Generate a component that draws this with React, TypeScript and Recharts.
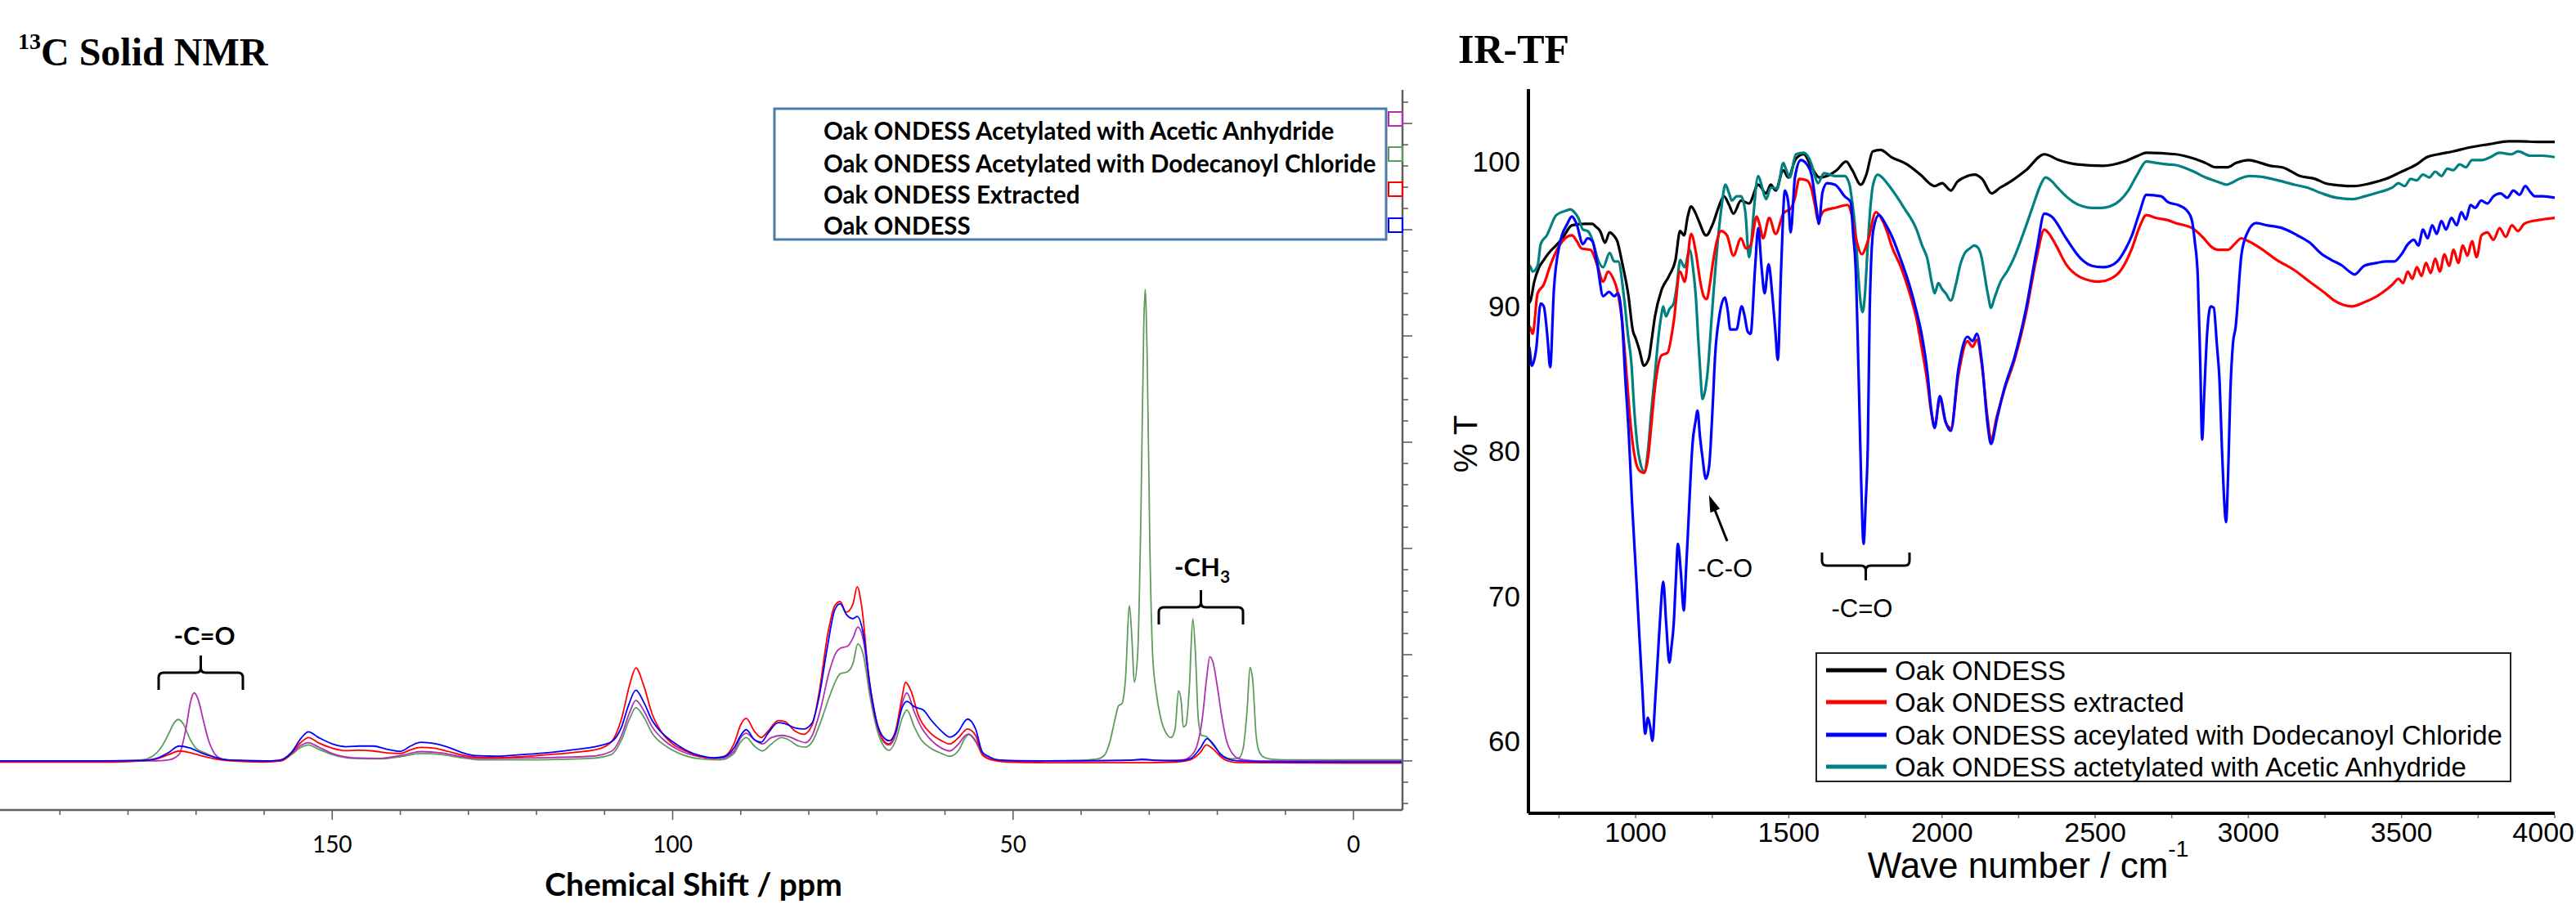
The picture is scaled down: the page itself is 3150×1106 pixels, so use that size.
import React from 'react';
import { LineChart, Line, XAxis, YAxis } from 'recharts';

type Pt = [number, number];

// ---------------- 13C solid NMR (ppm, intensity) ----------------
const nmrNames = [
  'Oak ONDESS Acetylated with Acetic Anhydride',
  'Oak ONDESS Acetylated with Dodecanoyl Chloride',
  'Oak ONDESS Extracted',
  'Oak ONDESS',
];
const nmrColors = ['#B030B0', '#5E9C5E', '#FF0000', '#0000FF'];

const nmrAcetic: Pt[] = [
  [199, 0], [182, 0], [176, 0], [174, 0.05], [172.5, 0.3], [171.5, 1.5], [170.8, 2.8], [170.3, 3.2], [169.7, 2.9],
  [169, 2.0], [168.2, 1.0], [167.3, 0.35], [166.3, 0.1], [165, 0.03], [160, 0], [157.5, 0.02], [156, 0.35],
  [154.5, 0.75], [153.5, 0.86], [152, 0.65], [150, 0.35], [147, 0.15], [143, 0.12], [140, 0.25], [137, 0.44],
  [134, 0.38], [131, 0.2], [128, 0.12], [120, 0.15], [112, 0.22], [109, 0.45], [107.5, 1.2], [106.3, 2.3],
  [105.4, 2.85], [104.3, 2.4], [103, 1.6], [101, 0.9], [99, 0.5], [96, 0.2], [93, 0.12], [91, 0.45], [90, 1.1],
  [89.2, 1.3], [88, 1.0], [86.8, 0.8], [85.5, 1.1], [84, 1.2], [83, 1.15], [81.5, 0.95], [80.5, 0.86], [79.5, 1.2],
  [78.3, 2.4], [77, 4.2], [76, 5.1], [75.4, 5.3], [74.3, 5.4], [73.5, 5.8], [72.8, 6.3], [72, 5.7], [71, 3.3],
  [70, 1.7], [69, 0.9], [68.2, 0.75], [67.2, 1.3], [66.3, 2.7], [65.6, 3.2], [64.5, 2.3], [63.5, 1.6], [62.1, 1.0],
  [60.5, 0.6], [59.3, 0.47], [58, 0.8], [57, 1.2], [56.5, 1.26], [55.5, 0.95], [54.5, 0.35], [53.2, 0.1],
  [51, 0.02], [45, 0], [35, 0.02], [31, 0.05], [28, 0.02], [25, 0.05], [24, 0.2], [23, 0.7], [22.2, 2.0],
  [21.6, 3.8], [21.1, 4.9], [20.6, 4.6], [20, 3.5], [19.3, 2.0], [18.6, 0.9], [17.8, 0.35], [17, 0.12], [16, 0.05],
  [14, 0], [0, 0], [-7.2, 0],
];

const nmrDodecanoyl: Pt[] = [
  [199, 0], [182, 0], [178, 0.05], [176.5, 0.2], [175, 0.7], [174, 1.3], [173.2, 1.8], [172.6, 1.95], [171.8, 1.7],
  [171, 1.1], [170, 0.6], [168.5, 0.35], [167, 0.15], [165, 0.03], [160, 0], [157.5, 0.02], [156, 0.3],
  [154.5, 0.65], [153.5, 0.75], [152, 0.55], [150, 0.3], [147, 0.12], [143, 0.1], [140, 0.2], [137, 0.35],
  [134, 0.3], [131, 0.15], [128, 0.05], [120, 0.05], [112, 0.12], [109, 0.3], [107.5, 1.0], [106.3, 2.0],
  [105.4, 2.5], [104.3, 2.1], [103, 1.3], [101, 0.7], [99, 0.35], [96, 0.1], [93, 0.05], [91, 0.35], [90, 0.9],
  [89.2, 1.1], [88, 0.7], [86.8, 0.47], [85.5, 0.8], [84, 1.1], [83, 1.0], [81.5, 0.7], [80.5, 0.65], [79.5, 0.9],
  [78.3, 1.8], [77, 3.0], [76, 3.8], [75.4, 4.1], [74.3, 4.2], [73.5, 4.6], [72.8, 5.5], [72, 5.0], [71, 3.0],
  [70, 1.5], [69, 0.7], [68.2, 0.5], [67.2, 1.0], [66.3, 2.0], [65.6, 2.4], [64.5, 1.6], [63.5, 1.0], [62.1, 0.6],
  [60.5, 0.35], [59.3, 0.22], [58, 0.5], [57, 1.1], [56.5, 1.24], [55.5, 0.9], [54.5, 0.3], [53.2, 0.08],
  [51, 0], [45, 0], [40, 0.03], [37.5, 0.1], [36.5, 0.3], [35.7, 1.0], [35, 2.0], [34.5, 2.6], [34, 2.7],
  [33.5, 3.8], [32.9, 7.3], [32.5, 5.5], [32.2, 3.7], [31.7, 5.0], [31.2, 12.0], [30.8, 20.5], [30.6, 22.2],
  [30.3, 19.0], [29.9, 10.0], [29.5, 5.0], [29, 3.3], [28.3, 2.0], [27.5, 1.3], [26.8, 1.1], [26.2, 1.5],
  [25.7, 3.3], [25.3, 2.8], [25.0, 1.6], [24.6, 1.7], [24.1, 3.5], [23.6, 6.7], [23.2, 5.0], [22.8, 2.0],
  [22.3, 1.2], [21.6, 1.15], [21, 0.9], [20, 0.5], [19, 0.2], [18, 0.1], [16.8, 0.15], [16.2, 0.6], [15.6, 2.5],
  [15.2, 4.4], [14.8, 3.8], [14.3, 1.2], [13.8, 0.4], [13, 0.15], [12, 0.08], [10, 0.05], [0, 0.05], [-7.2, 0.05],
];

const nmrExtracted: Pt[] = [
  [199, -0.05], [182, -0.05], [178, 0], [176, 0.08], [174, 0.3], [172.5, 0.47], [171, 0.4], [169, 0.22],
  [167, 0.08], [165, 0], [160, -0.05], [157.5, 0], [156, 0.35], [154.5, 0.9], [153.5, 1.1], [152, 0.85],
  [150, 0.6], [148, 0.48], [146, 0.5], [144, 0.47], [142, 0.38], [140, 0.35], [138.5, 0.52], [137, 0.64],
  [135, 0.6], [133, 0.45], [131, 0.28], [129, 0.18], [126, 0.15], [122, 0.2], [118, 0.3], [114, 0.42],
  [111, 0.55], [109, 0.9], [107.5, 2.0], [106.3, 3.6], [105.4, 4.38], [104.3, 3.6], [103, 2.2], [101.5, 1.3],
  [100, 0.8], [98, 0.45], [96, 0.2], [94, 0.12], [92.5, 0.2], [91, 0.8], [90, 1.7], [89.2, 2.0], [88, 1.4],
  [87, 1.1], [86, 1.4], [84.5, 1.9], [83.5, 1.85], [82, 1.4], [80.8, 1.25], [79.5, 1.7], [78.5, 3.2], [77.2, 6.0],
  [76.2, 7.3], [75.4, 7.5], [74.5, 7.0], [73.5, 7.4], [72.9, 8.2], [72.2, 7.2], [71.2, 4.0], [70.4, 2.4],
  [69.3, 1.1], [68.3, 0.8], [67.2, 1.5], [66.3, 3.0], [65.8, 3.7], [65, 3.3], [63.9, 2.14], [62.1, 1.3],
  [60.5, 0.95], [59.3, 0.8], [58, 1.1], [57, 1.45], [56.7, 1.5], [55.5, 1.2], [54.5, 0.28], [53.2, 0.05],
  [51, -0.05], [45, -0.08], [30, -0.08], [26, -0.05], [24, 0.05], [22.5, 0.4], [21.6, 0.75], [20.6, 0.55],
  [19.5, 0.2], [18.5, 0], [17, -0.08], [0, -0.1], [-7.2, -0.1],
];

const nmrOak: Pt[] = [
  [199, 0], [185, 0], [178, 0.02], [176, 0.1], [174, 0.4], [172.5, 0.7], [171, 0.62], [169, 0.35], [167, 0.15],
  [165, 0.04], [160, 0], [158, 0.02], [156, 0.4], [154.5, 1.1], [153.5, 1.37], [152, 1.1], [150, 0.8], [148, 0.67],
  [146, 0.7], [144, 0.7], [142, 0.55], [140, 0.45], [138.5, 0.7], [137, 0.88], [135, 0.82], [133, 0.65], [131, 0.4],
  [129, 0.25], [126, 0.22], [122, 0.3], [118, 0.4], [114, 0.55], [111, 0.7], [109, 0.9], [107.5, 1.6],
  [106.5, 2.6], [105.4, 3.33], [104.3, 2.8], [103, 1.9], [101.5, 1.3], [100, 0.9], [98, 0.5], [96, 0.25],
  [94, 0.15], [92.5, 0.2], [91, 0.6], [90, 1.2], [89.2, 1.47], [88, 1.0], [87, 0.88], [86, 1.3], [84.5, 1.8],
  [83.5, 1.75], [82, 1.55], [80.8, 1.5], [79.5, 1.8], [78.5, 3.0], [77.2, 5.5], [76.2, 7.1], [75.4, 7.4],
  [74.5, 6.9], [73.5, 6.7], [72.9, 6.8], [72, 6.0], [71, 3.5], [70, 1.8], [69, 1.1], [68.2, 0.95], [67.2, 1.4],
  [66.3, 2.5], [65.6, 2.8], [64.5, 2.55], [63.2, 2.4], [62.1, 1.95], [60.5, 1.4], [59.3, 1.12], [58, 1.4],
  [57, 1.9], [56.7, 1.97], [55.5, 1.5], [54.5, 0.41], [53.5, 0.2], [52.5, 0.06], [51, 0.02], [48, 0], [40, 0],
  [33, 0.03], [31, 0.08], [29, 0.03], [26, 0], [24, 0.1], [22.5, 0.6], [21.5, 1.05], [20.5, 0.75], [19.5, 0.3],
  [18.5, 0.1], [17, 0], [10, -0.05], [0, -0.05], [-7.2, -0.05],
];

const nmrXTicks = [0, 10, 20, 30, 40, 50, 60, 70, 80, 90, 100, 110, 120, 130, 140, 150, 160, 170, 180, 190];
const nmrXLabels = [0, 50, 100, 150];
const nmrYTicks = [-2, -1, 0, 1, 2, 3, 4, 5, 6, 7, 8, 9, 10, 11, 12, 13, 14, 15, 16, 17, 18, 19, 20, 21, 22, 23,
  24, 25, 26, 27, 28, 29, 30, 31];

// ---------------- IR-TF (wavenumber, %T) ----------------
const irNames = [
  'Oak ONDESS',
  'Oak ONDESS extracted',
  'Oak ONDESS aceylated with Dodecanoyl Chloride',
  'Oak ONDESS actetylated with Acetic Anhydride',
];
const irColors = ['#000000', '#FF0000', '#0000FF', '#008080'];

const irOak: Pt[] = [
  [650, 90.2], [657, 90.4], [669, 91.7], [685, 92.7], [700, 93.2], [721, 93.8], [740, 94.2], [761, 94.7],
  [792, 95.6], [833, 95.7], [859, 95.7], [870, 95.5], [884, 95.2], [900, 94.4], [915, 95.1], [928, 94.9],
  [940, 94.5], [956, 93.0], [976, 90.8], [991, 88.3], [1000, 87.8], [1012, 87.0], [1027, 85.9], [1043, 86.4],
  [1053, 87.8], [1063, 89.3], [1084, 91.1], [1109, 92.1], [1130, 93.2], [1145, 95.2], [1158, 94.9], [1170, 96.2],
  [1181, 96.9], [1194, 96.5], [1206, 95.9], [1230, 94.9], [1252, 95.7], [1270, 96.8], [1288, 97.6], [1305, 97.0],
  [1319, 96.4], [1344, 97.3], [1370, 97.1], [1400, 98.4], [1426, 97.8], [1441, 98.4], [1457, 98.0], [1482, 99.4],
  [1498, 98.9], [1523, 100.2], [1549, 100.5], [1574, 99.6], [1600, 98.9], [1625, 99.0], [1656, 99.4],
  [1687, 100.0], [1707, 99.4], [1735, 98.4], [1753, 99.1], [1774, 100.7], [1799, 100.8], [1835, 100.3],
  [1886, 99.8], [1929, 99.1], [1976, 98.3], [2000, 98.5], [2029, 98.0], [2050, 98.6], [2072, 98.9],
  [2107, 99.1], [2131, 98.8], [2162, 97.8], [2190, 98.2], [2215, 98.5], [2274, 99.4], [2334, 100.5],
  [2381, 100.1], [2441, 99.8], [2524, 99.7], [2596, 100.0], [2640, 100.4], [2667, 100.6], [2763, 100.5],
  [2822, 100.2], [2860, 99.9], [2894, 99.6], [2930, 99.6], [2960, 99.9], [3001, 100.1], [3040, 99.9],
  [3072, 99.7], [3111, 99.6], [3168, 99.0], [3218, 98.8], [3251, 98.5], [3300, 98.35], [3343, 98.3],
  [3400, 98.5], [3449, 98.8], [3500, 99.3], [3549, 99.8], [3583, 100.3], [3620, 100.5], [3668, 100.7],
  [3717, 100.95], [3787, 101.2], [3850, 101.4], [3883, 101.4], [3950, 101.35], [4000, 101.35],
];

const irExtracted: Pt[] = [
  [650, 88.4], [654, 88.6], [664, 88.1], [680, 90.9], [700, 91.5], [721, 92.8], [751, 94.2], [770, 94.7],
  [792, 94.9], [808, 94.5], [823, 94.0], [853, 93.9], [874, 92.9], [894, 91.7], [910, 92.4], [925, 92.0],
  [940, 91.1], [956, 88.9], [971, 85.1], [985, 81.5], [1000, 79.3], [1015, 78.6], [1028, 78.5], [1040, 79.5],
  [1052, 82.0], [1060, 83.8], [1068, 85.2], [1084, 86.6], [1104, 86.8], [1124, 88.9], [1145, 92.4], [1160, 91.7],
  [1181, 95.0], [1196, 93.8], [1211, 91.7], [1222, 90.7], [1232, 90.5], [1242, 91.5], [1252, 93.0], [1265, 94.5],
  [1278, 95.2], [1298, 94.9], [1319, 93.5], [1344, 94.7], [1360, 94.0], [1375, 94.2], [1395, 96.2], [1405, 95.6],
  [1416, 94.7], [1436, 96.1], [1457, 95.0], [1482, 96.4], [1508, 96.8], [1520, 97.5], [1534, 98.8], [1559, 98.7],
  [1574, 98.1], [1585, 97.0], [1595, 96.0], [1615, 96.6], [1651, 96.8], [1692, 97.0], [1703, 96.5], [1712, 95.5],
  [1725, 94.2], [1738, 93.6], [1758, 94.5], [1784, 96.5], [1804, 96.0], [1820, 95.2], [1835, 94.2], [1866, 92.7],
  [1896, 90.8], [1915, 89.3], [1935, 87.0], [1952, 84.8], [1964, 82.8], [1976, 81.8], [1993, 83.6], [2012, 82.0],
  [2029, 81.6], [2053, 85.2], [2083, 87.6], [2100, 87.2], [2114, 87.7], [2131, 85.8], [2148, 82.4], [2160, 80.8],
  [2179, 82.4], [2203, 84.2], [2238, 86.4], [2274, 89.5], [2310, 93.5], [2334, 95.3], [2346, 95.1], [2370, 94.3],
  [2405, 92.9], [2453, 92.0], [2512, 91.7], [2550, 91.9], [2584, 92.5], [2620, 94.0], [2645, 95.5], [2667, 96.3],
  [2700, 96.1], [2737, 95.95], [2763, 95.75], [2790, 95.6], [2817, 95.4], [2850, 94.8], [2880, 94.1],
  [2902, 93.9], [2933, 93.9], [2955, 94.3], [2977, 94.7], [3000, 94.5], [3040, 94.0], [3093, 93.2], [3150, 92.5],
  [3200, 91.7], [3251, 90.9], [3280, 90.4], [3310, 90.1], [3338, 90.0], [3380, 90.3], [3420, 90.7], [3441, 91.0],
  [3470, 91.5], [3490, 91.9], [3505, 91.6], [3520, 92.4], [3535, 91.9], [3550, 92.7], [3565, 92.1], [3580, 93.0],
  [3595, 92.3], [3610, 93.3], [3625, 92.4], [3640, 93.6], [3655, 92.8], [3670, 93.9], [3685, 93.0], [3700, 94.2],
  [3715, 93.5], [3730, 94.5], [3745, 93.4], [3761, 94.9], [3780, 95.1], [3800, 94.6], [3820, 95.4], [3840, 94.8],
  [3860, 95.6], [3880, 95.2], [3900, 95.7], [3930, 95.9], [3960, 96.0], [4000, 96.1],
];

const irDodecanoyl: Pt[] = [
  [650, 87.0], [652, 87.2], [661, 85.9], [675, 87.0], [690, 90.2], [700, 90.0], [712, 87.9], [721, 85.8],
  [733, 91.1], [751, 94.2], [777, 95.7], [792, 96.2], [807, 95.7], [828, 94.3], [843, 94.7], [859, 94.5],
  [874, 93.0], [894, 90.7], [913, 91.0], [930, 90.7], [942, 90.9], [956, 88.9], [966, 85.1], [978, 81.0],
  [988, 76.5], [1000, 72.0], [1012, 67.3], [1022, 63.5], [1031, 60.5], [1040, 61.6], [1047, 61.0], [1055, 60.0],
  [1063, 62.5], [1071, 65.3], [1080, 68.5], [1090, 71.0], [1100, 68.0], [1110, 65.4], [1117, 66.5], [1124, 68.0],
  [1131, 71.0], [1138, 73.6], [1148, 71.5], [1157, 69.0], [1165, 72.0], [1171, 74.5], [1180, 78.5], [1186, 80.6],
  [1195, 82.0], [1202, 82.8], [1210, 81.0], [1218, 79.6], [1229, 78.1], [1240, 79.0], [1250, 82.5], [1260, 86.8],
  [1273, 89.3], [1291, 90.6], [1300, 89.8], [1309, 88.4], [1329, 88.4], [1346, 90.0], [1356, 89.3], [1365, 88.3],
  [1375, 88.1], [1390, 92.7], [1400, 95.4], [1411, 92.7], [1421, 90.9], [1434, 92.9], [1446, 90.8], [1456, 88.3],
  [1464, 86.3], [1475, 92.7], [1487, 98.0], [1498, 97.2], [1506, 95.1], [1520, 98.9], [1539, 100.1], [1559, 99.8],
  [1574, 99.1], [1590, 96.8], [1598, 95.7], [1610, 97.9], [1625, 98.5], [1651, 98.4], [1682, 97.6], [1702, 97.2],
  [1710, 95.0], [1718, 92.7], [1728, 85.1], [1736, 78.0], [1744, 73.6], [1751, 76.5], [1758, 80.6], [1764, 89.8],
  [1776, 95.3], [1794, 96.3], [1815, 95.7], [1835, 94.9], [1866, 93.2], [1896, 91.3], [1915, 89.8], [1935, 87.9],
  [1952, 85.5], [1964, 83.0], [1976, 81.6], [1993, 83.8], [2012, 82.0], [2029, 81.4], [2053, 85.6], [2083, 87.9],
  [2100, 87.6], [2114, 88.1], [2131, 86.0], [2148, 82.0], [2160, 80.5], [2179, 82.2], [2203, 84.3], [2238, 86.6],
  [2274, 89.8], [2310, 94.0], [2334, 96.4], [2358, 96.2], [2405, 94.7], [2453, 93.3], [2489, 92.8], [2524, 92.7],
  [2550, 92.8], [2572, 93.1], [2600, 94.0], [2620, 94.9], [2645, 96.5], [2667, 97.7], [2715, 97.6], [2737, 97.2],
  [2775, 96.96], [2800, 96.6], [2815, 96.0], [2825, 94.5], [2835, 92.0], [2843, 86.0], [2849, 80.8], [2856, 84.0],
  [2865, 88.0], [2877, 90.0], [2887, 89.9], [2897, 87.4], [2906, 84.8], [2914, 80.0], [2920, 77.0], [2927, 75.1],
  [2934, 78.5], [2941, 84.0], [2950, 87.5], [2958, 88.5], [2977, 93.5], [2995, 95.0], [3025, 95.75], [3060, 95.6],
  [3111, 95.4], [3160, 94.9], [3200, 94.4], [3240, 93.6], [3271, 93.2], [3307, 92.8], [3330, 92.4], [3347, 92.2],
  [3378, 92.8], [3420, 93.0], [3449, 93.1], [3476, 93.1], [3500, 93.6], [3521, 94.3], [3540, 94.6], [3555, 94.2],
  [3570, 95.3], [3585, 94.7], [3600, 95.6], [3615, 95.0], [3630, 95.9], [3645, 95.3], [3663, 96.1], [3680, 95.6],
  [3695, 96.5], [3710, 96.0], [3725, 97.0], [3740, 96.8], [3760, 97.3], [3780, 97.1], [3800, 97.6], [3823, 97.8],
  [3845, 97.5], [3865, 98.0], [3885, 97.7], [3904, 98.3], [3920, 97.9], [3935, 97.6], [3960, 97.6], [4000, 97.5],
];

const irAcetic: Pt[] = [
  [650, 92.8], [654, 92.8], [664, 92.4], [680, 92.8], [690, 94.3], [710, 94.9], [741, 96.3], [772, 96.6],
  [787, 96.7], [800, 96.5], [813, 96.1], [828, 95.3], [843, 95.2], [855, 94.8], [864, 94.2], [874, 93.4],
  [894, 92.7], [915, 93.7], [930, 93.1], [943, 93.1], [961, 90.8], [975, 88.0], [986, 86.1], [995, 83.0],
  [1005, 80.5], [1015, 79.2], [1028, 78.6], [1040, 80.0], [1050, 82.5], [1063, 85.3], [1075, 88.0], [1084, 89.4],
  [1090, 90.0], [1099, 89.3], [1110, 89.8], [1124, 90.2], [1135, 91.5], [1145, 93.2], [1160, 92.7], [1176, 93.9],
  [1188, 92.5], [1196, 90.8], [1205, 87.5], [1211, 85.5], [1218, 83.6], [1225, 84.0], [1235, 85.5], [1247, 88.9],
  [1258, 92.0], [1268, 94.5], [1280, 96.8], [1293, 98.4], [1305, 97.8], [1314, 97.3], [1330, 97.6], [1344, 97.6],
  [1358, 96.5], [1370, 93.4], [1378, 94.5], [1385, 96.4], [1400, 99.0], [1413, 98.2], [1426, 97.4], [1441, 98.2],
  [1450, 98.2], [1462, 98.1], [1482, 99.9], [1490, 99.5], [1503, 98.9], [1523, 100.5], [1549, 100.6],
  [1574, 99.8], [1585, 99.0], [1595, 98.5], [1615, 99.2], [1651, 99.0], [1682, 99.0], [1697, 98.5], [1707, 97.2],
  [1716, 95.5], [1725, 92.7], [1733, 90.5], [1741, 89.6], [1749, 91.0], [1756, 93.6], [1765, 96.5], [1774, 98.3],
  [1790, 99.1], [1799, 99.0], [1835, 98.1], [1876, 96.8], [1917, 95.3], [1935, 94.2], [1952, 93.3], [1968, 91.5],
  [1976, 90.9], [1988, 91.6], [2000, 91.2], [2012, 90.9], [2029, 90.4], [2045, 91.5], [2060, 92.9], [2075, 93.7],
  [2091, 94.0], [2105, 94.2], [2119, 94.0], [2130, 93.3], [2138, 92.3], [2150, 90.8], [2160, 89.9], [2170, 90.5],
  [2191, 91.7], [2215, 92.5], [2238, 93.5], [2270, 95.3], [2298, 97.0], [2320, 98.3], [2338, 98.9], [2360, 98.6],
  [2377, 98.2], [2400, 97.7], [2429, 97.2], [2460, 96.9], [2489, 96.8], [2520, 96.8], [2548, 96.9], [2580, 97.3],
  [2608, 98.0], [2640, 99.2], [2667, 100.0], [2700, 99.9], [2737, 99.8], [2763, 99.75], [2800, 99.5],
  [2822, 99.3], [2860, 98.9], [2900, 98.6], [2929, 98.4], [2942, 98.5], [2970, 98.8], [3004, 99.0],
  [3040, 98.95], [3096, 98.7], [3150, 98.4], [3192, 98.2], [3240, 97.8], [3287, 97.5], [3339, 97.4],
  [3380, 97.6], [3430, 97.9], [3470, 98.2], [3490, 98.5], [3510, 98.3], [3530, 98.8], [3549, 98.7], [3570, 99.1],
  [3590, 98.9], [3610, 99.3], [3630, 99.0], [3650, 99.5], [3668, 99.4], [3690, 99.8], [3710, 99.6], [3730, 100.1],
  [3763, 100.1], [3790, 100.3], [3820, 100.6], [3859, 100.5], [3880, 100.7], [3920, 100.4], [3960, 100.4],
  [4000, 100.3],
];

const irXTicks = [750, 1000, 1250, 1500, 1750, 2000, 2250, 2500, 2750, 3000, 3250, 3500, 3750, 4000];
const irXLabels = [1000, 1500, 2000, 2500, 3000, 3500, 4000];
const irYTicks = [60, 70, 80, 90, 100];

const toRows = (pts: Pt[]) => pts.map(([x, y]) => ({ x, y }));

const NMR_FONT = 'Lato, "Open Sans", sans-serif';
const IR_FONT = '"Liberation Sans", Arial, sans-serif';
const SERIF = '"Liberation Serif", "Times New Roman", serif';

const NmrXTick = (p: any) => {
  const v = p.payload.value;
  const major = nmrXLabels.includes(v);
  return (
    <g>
      <line x1={p.x} x2={p.x} y1={p.y} y2={p.y + (major ? 12 : 6)} stroke="#606060" strokeWidth={1.6} />
      {major && (
        <text x={p.x} y={p.y + 42} dy="0.36em" textAnchor="middle" fontFamily={NMR_FONT} fontSize={28} fill="#000">
          {v}
        </text>
      )}
    </g>
  );
};

const NmrYTick = (p: any) => {
  const v = p.payload.value;
  const major = v % 5 === 0;
  return <line x1={p.x} x2={p.x + (major ? 12 : 7)} y1={p.y} y2={p.y} stroke="#606060" strokeWidth={1.6} />;
};

const IrXTick = (p: any) => {
  const v = p.payload.value;
  const lab = irXLabels.includes(v);
  // keep the last label inside the picture's right edge
  const last = v === irXLabels[irXLabels.length - 1];
  return (
    <g>
      <line x1={p.x} x2={p.x} y1={p.y + 2} y2={p.y + 6} stroke="#707070" strokeWidth={1.5} />
      {lab && (
        <text
          x={last ? p.x + 24 : p.x} y={p.y + 23} dy="0.36em" textAnchor={last ? 'end' : 'middle'}
          fontFamily={IR_FONT} fontSize={34} fill="#000"
        >
          {v}
        </text>
      )}
    </g>
  );
};

const nmrSeries = [nmrAcetic, nmrDodecanoyl, nmrExtracted, nmrOak];
const nmrDrawOrder = [1, 0, 2, 3];
const irSeries = [irOak, irExtracted, irDodecanoyl, irAcetic];
const irDrawOrder = [0, 3, 1, 2];

const brace = (x1: number, x2: number, y: number, tipLen: number, endLen: number, dir: number) => {
  const xm = (x1 + x2) / 2;
  const r = 6;
  return `M ${x1} ${y - dir * endLen} L ${x1} ${y - dir * r} Q ${x1} ${y} ${x1 + r} ${y} L ${xm - r} ${y} Q ${xm} ${y} ${xm} ${y + dir * r} L ${xm} ${y + dir * tipLen} M ${xm} ${y + dir * r} Q ${xm} ${y} ${xm + r} ${y} L ${x2 - r} ${y} Q ${x2} ${y} ${x2} ${y - dir * r} L ${x2} ${y - dir * endLen}`;
};

export default function App() {
  const legendRowsNmr = [160, 200, 238, 276];
  const squareRows = [137, 180, 223, 267];
  const legendRowsIr = [820, 859, 899, 938];
  return (
    <div style={{ position: 'absolute', left: 0, top: 0, width: 3150, height: 1106, background: '#fff', overflow: 'hidden' }}>
      {/* NMR chart */}
      <div style={{ position: 'absolute', left: 0, top: 0 }}>
        <LineChart width={1800} height={1106} margin={{ top: 110, right: 25, bottom: 25, left: 0 }}>
          <XAxis
            xAxisId="b" type="number" dataKey="x" domain={[-7.2, 198.8]} reversed allowDataOverflow
            ticks={nmrXTicks} interval={0} tickSize={0} tickMargin={0} tickLine={false}
            tick={(p: any) => <NmrXTick {...p} />} axisLine={{ stroke: '#606060', strokeWidth: 2.5 }} height={90}
          />
          <XAxis
            xAxisId="t" orientation="top" type="number" dataKey="x" domain={[-7.2, 198.8]} reversed allowDataOverflow
            tick={false} tickLine={false} axisLine={{ stroke: '#505050', strokeWidth: 2 }} height={0}
          />
          <YAxis
            yAxisId="r" orientation="right" type="number" domain={[-2.31, 31.58]} allowDataOverflow
            ticks={nmrYTicks} interval={0} tickSize={0} tickMargin={0} tickLine={false}
            tick={(p: any) => <NmrYTick {...p} />} axisLine={{ stroke: '#606060', strokeWidth: 2.5 }} width={60}
          />
          {nmrDrawOrder.map((i) => (
            <Line
              key={nmrNames[i]} name={nmrNames[i]} xAxisId="b" yAxisId="r" data={toRows(nmrSeries[i])} dataKey="y"
              type="monotone" stroke={nmrColors[i]} strokeWidth={1.8} dot={false} isAnimationActive={false}
            />
          ))}
        </LineChart>
      </div>

      {/* IR chart */}
      <div style={{ position: 'absolute', left: 1750, top: 0 }}>
        <LineChart width={1400} height={1106} margin={{ top: 109, right: 26, bottom: 31, left: 0 }}>
          <XAxis
            xAxisId="b" type="number" dataKey="x" domain={[650, 4000]} allowDataOverflow
            ticks={irXTicks} interval={0} tickSize={0} tickMargin={0} tickLine={false}
            tick={(p: any) => <IrXTick {...p} />} axisLine={{ stroke: '#000', strokeWidth: 4 }} height={80}
          />
          <XAxis
            xAxisId="t" orientation="top" type="number" dataKey="x" domain={[650, 4000]} allowDataOverflow
            tick={false} tickLine={false} axisLine={{ stroke: '#000', strokeWidth: 4 }} height={0}
          />
          <YAxis
            yAxisId="l" type="number" domain={[55, 105]} allowDataOverflow ticks={irYTicks} interval={0}
            tickSize={0} tickMargin={10} tickLine={false}
            tick={{ fontSize: 35, fill: '#000', fontFamily: IR_FONT }}
            axisLine={{ stroke: '#000', strokeWidth: 4 }} width={119}
          />
          <YAxis
            yAxisId="r" orientation="right" type="number" domain={[55, 105]} allowDataOverflow
            tick={false} tickLine={false} axisLine={{ stroke: '#000', strokeWidth: 4 }} width={0}
          />
          {irDrawOrder.map((i) => (
            <Line
              key={irNames[i]} name={irNames[i]} xAxisId="b" yAxisId="l" data={toRows(irSeries[i])} dataKey="y"
              type="monotone" stroke={irColors[i]} strokeWidth={3.2} dot={false} isAnimationActive={false}
            />
          ))}
        </LineChart>
      </div>

      {/* Titles, legends and annotations */}
      <svg width={3150} height={1106} style={{ position: 'absolute', left: 0, top: 0, pointerEvents: 'none' }}>
        <text x={22} y={80} fontFamily={SERIF} fontWeight="bold" fontSize={48} fill="#000">
          <tspan fontSize={28} dy={-20}>13</tspan>
          <tspan dy={20}>C Solid NMR</tspan>
        </text>
        <text x={1783} y={77} fontFamily={SERIF} fontWeight="bold" fontSize={50} fill="#000">IR-TF</text>

        {/* NMR legend */}
        <rect x={947} y={133} width={748} height={160} fill="#fff" stroke="#4F79A7" strokeWidth={3} />
        {nmrNames.map((n, i) => (
          <text key={n} x={1007} y={legendRowsNmr[i]} dy="0.36em" fontFamily={NMR_FONT} fontWeight="bold" fontSize={29.5} fill="#000">
            {n}
          </text>
        ))}
        {nmrColors.map((c, i) => (
          <rect key={c} x={1698} y={squareRows[i]} width={17} height={17} fill="none" stroke={c} strokeWidth={2} />
        ))}

        {/* NMR axis title */}
        <text x={848} y={1082} dy="0.36em" textAnchor="middle" fontFamily={NMR_FONT} fontWeight="bold" fontSize={39} fill="#000">
          Chemical Shift / ppm
        </text>

        {/* NMR annotations */}
        <text x={250} y={778} dy="0.36em" textAnchor="middle" fontFamily={NMR_FONT} fontWeight="bold" fontSize={31} fill="#000">-C=O</text>
        <path d={brace(194, 297, 823, 21, 21, -1)} fill="none" stroke="#000" strokeWidth={3} />
        <text x={1470} y={694} dy="0.36em" textAnchor="middle" fontFamily={NMR_FONT} fontWeight="bold" fontSize={31} fill="#000">
          -CH<tspan fontSize={21} dy={8}>3</tspan>
        </text>
        <path d={brace(1417, 1520, 743, 21, 21, -1)} fill="none" stroke="#000" strokeWidth={3} />

        {/* IR axis titles */}
        <text x={2480} y={1058} dy="0.36em" textAnchor="middle" fontFamily={IR_FONT} fontSize={44} fill="#000">
          Wave number / cm<tspan fontSize={28} dy={-26}>-1</tspan>
        </text>
        <text x={0} y={0} transform="translate(1792 543) rotate(-90)" dy="0.36em" textAnchor="middle" fontFamily={IR_FONT} fontSize={40} fill="#000">
          % T
        </text>

        {/* IR annotations */}
        <line x1={2112} y1={662} x2={2097} y2={624} stroke="#000" strokeWidth={3} />
        <polygon points="2091,609 2101.5,622 2092.3,625.7" fill="#000" stroke="#000" strokeWidth={2} />
        <text x={2076} y={695} dy="0.36em" fontFamily={IR_FONT} fontSize={31} fill="#000">-C-O</text>
        <path d={brace(2228, 2335, 692, 18, 16, 1)} fill="none" stroke="#000" strokeWidth={3} />
        <text x={2277} y={744} dy="0.36em" textAnchor="middle" fontFamily={IR_FONT} fontSize={31} fill="#000">-C=O</text>

        {/* IR legend */}
        <rect x={2221} y={799} width={849} height={157} fill="#fff" stroke="#222" strokeWidth={2} />
        {irNames.map((n, i) => (
          <g key={n}>
            <line x1={2233} x2={2307} y1={legendRowsIr[i]} y2={legendRowsIr[i]} stroke={irColors[i]} strokeWidth={5} />
            <text x={2317} y={legendRowsIr[i]} dy="0.36em" fontFamily={IR_FONT} fontSize={33} fill="#000">{n}</text>
          </g>
        ))}
      </svg>
    </div>
  );
}
